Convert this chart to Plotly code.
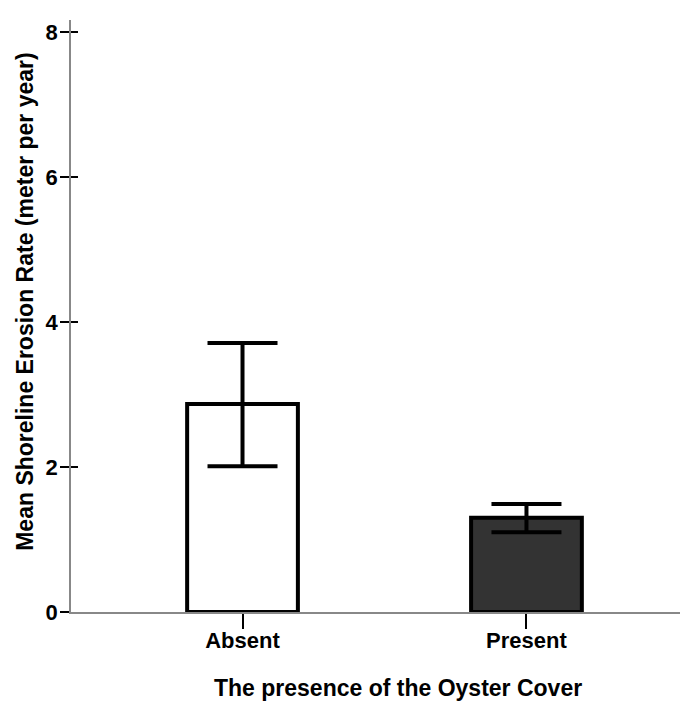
import plotly.graph_objects as go

categories = ["Absent", "Present"]
mean_rate = [2.87, 1.30]
err_upper = [3.71, 1.49]
err_lower = [2.01, 1.10]
bar_colors = ["#ffffff", "#333333"]
y_ticks = [0, 2, 4, 6, 8]

plus = [u - m for u, m in zip(err_upper, mean_rate)]
minus = [m - l for m, l in zip(mean_rate, err_lower)]

FONT = "Liberation Sans, Arial, sans-serif"

fig = go.Figure()
fig.add_trace(go.Bar(
    x=categories, y=mean_rate, width=0.39,
    marker=dict(color=bar_colors, line=dict(color="black", width=4)),
    error_y=dict(type="data", symmetric=False, array=plus, arrayminus=minus,
                 color="black", thickness=4, width=35),
    showlegend=False, hoverinfo="skip",
))
fig.add_trace(go.Scatter(x=categories, y=[None, None], yaxis="y2",
                         showlegend=False, hoverinfo="skip"))

fig.update_layout(
    width=688, height=704,
    margin=dict(l=63, r=0, t=12, b=100),
    paper_bgcolor="white", plot_bgcolor="white",
    font=dict(family=FONT, size=22, color="black", weight="bold"),
    xaxis=dict(
        range=[-0.604, 1.597], showgrid=False, zeroline=False,
        showline=True, linecolor="#888888", linewidth=1.5,
        ticks="outside", ticklen=15, tickwidth=2, tickcolor="black",
        tickfont=dict(family=FONT, size=22, color="black", weight="bold"),
        ticklabelstandoff=-7,
    ),
    yaxis=dict(
        range=[0, 8.166], tickvals=y_ticks, showgrid=False, zeroline=False,
        showline=True, linecolor="#888888", linewidth=1.5,
        ticks="outside", ticklen=9, tickwidth=2, tickcolor="black",
        tickfont=dict(family=FONT, size=22, color="black", weight="bold"),
        ticklabelstandoff=-2,
    ),
    yaxis2=dict(
        range=[0, 8.166], tickvals=y_ticks, overlaying="y", side="left",
        showgrid=False, zeroline=False, showline=False, showticklabels=False,
        ticks="inside", ticklen=7, tickwidth=2, tickcolor="black",
    ),
    annotations=[
        dict(text="The presence of the Oyster Cover", xref="paper", yref="paper",
             x=(390 - 63) / 625, y=-0.128, xanchor="center", yanchor="middle", showarrow=False,
             font=dict(family=FONT, size=23, color="black", weight="bold")),
        dict(text="Mean Shoreline Erosion Rate (meter per year)", xref="paper", yref="paper",
             x=(17 - 63) / 625, y=0.524, xanchor="center", yanchor="middle",
             textangle=-90, showarrow=False,
             font=dict(family=FONT, size=23, color="black", weight="bold")),
    ],
)

fig.write_html("out.html")
